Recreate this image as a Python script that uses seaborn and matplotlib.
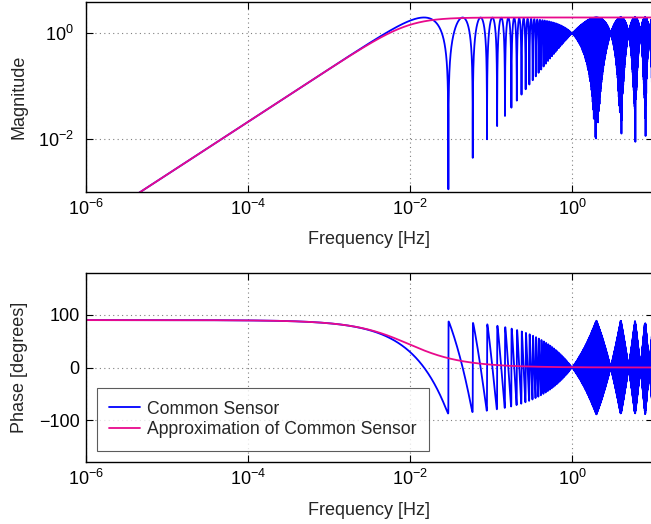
import numpy as np
import pandas as pd
import seaborn as sns
import matplotlib
matplotlib.use("Agg")
import matplotlib.pyplot as plt
from matplotlib.ticker import FixedLocator, LogFormatterMathtext

# ---- data / model parameters ----
freq_min_exp = -6          # 1e-6 Hz
freq_max_exp = 1           # 1e1 Hz
n_points = 100000
mean_delay_s = 33.6        # first notch near 0.0297 Hz
delay_spread_s = 0.5       # beat: magnitude pinches to 1 at 1 Hz, 3 Hz ...
series_names = ["Common Sensor", "Approximation of Common Sensor"]
mag_ticks = [1e-2, 1e0]
phase_ticks = [-100, 0, 100]
freq_ticks = [1e-6, 1e-4, 1e-2, 1e0]

f = np.logspace(freq_min_exp, freq_max_exp, n_points)
s = 2j * np.pi * f
tau1 = mean_delay_s - delay_spread_s / 2
tau2 = mean_delay_s + delay_spread_s / 2
H_cs = 1 - 0.5 * (np.exp(-s * tau1) + np.exp(-s * tau2))
# first-order Pade approximation of 1 - exp(-s*tau)
H_ap = s * mean_delay_s / (1 + s * mean_delay_s / 2)

df_cs = pd.DataFrame({"f": f, "mag": np.abs(H_cs), "ph": np.degrees(np.angle(H_cs))})
df_ap = pd.DataFrame({"f": f, "mag": np.abs(H_ap), "ph": np.degrees(np.angle(H_ap))})

sns.set_style("white")
plt.rcParams["font.family"] = ["Liberation Sans", "DejaVu Sans"]
plt.rcParams["mathtext.fontset"] = "custom"
plt.rcParams["mathtext.rm"] = "Liberation Sans"
plt.rcParams["mathtext.it"] = "Liberation Sans:italic"
plt.rcParams["mathtext.bf"] = "Liberation Sans:bold"

blue = (0.0, 0.0, 1.0)
pink = (0.91, 0.04, 0.55)
fs = 13

fig = plt.figure(figsize=(6.51, 5.24), dpi=100)
ax1 = fig.add_axes([86 / 651, 1 - 191.7 / 524, 567 / 651, 190 / 524])
ax2 = fig.add_axes([86 / 651, 1 - 462.3 / 524, 567 / 651, 189.6 / 524])

sns.lineplot(data=df_cs, x="f", y="mag", ax=ax1, color=blue, lw=1.3,
             estimator=None, sort=False, label=series_names[0], legend=False)
sns.lineplot(data=df_ap, x="f", y="mag", ax=ax1, color=pink, lw=1.3,
             estimator=None, sort=False, label=series_names[1], legend=False)
sns.lineplot(data=df_cs, x="f", y="ph", ax=ax2, color=blue, lw=1.3,
             estimator=None, sort=False, label=series_names[0], legend=False)
sns.lineplot(data=df_ap, x="f", y="ph", ax=ax2, color=pink, lw=1.3,
             estimator=None, sort=False, label=series_names[1], legend=False)

for ax in (ax1, ax2):
    ax.set_xscale("log")
    ax.set_xlim(10.0 ** freq_min_exp, 10.0 ** freq_max_exp)
    ax.xaxis.set_major_locator(FixedLocator(freq_ticks))
    ax.xaxis.set_minor_locator(FixedLocator([]))
    ax.xaxis.set_major_formatter(LogFormatterMathtext())
    ax.set_xlabel("Frequency [Hz]", fontsize=fs, labelpad=9)
    ax.grid(True, which="major", color="0.5", linestyle=(0, (1, 3)), lw=0.8)
    ax.tick_params(direction="in", length=5, width=0.8, labelsize=fs,
                   top=True, right=True, bottom=True, left=True, colors="black")
    ax.tick_params(axis="x", pad=5)
    for sp in ax.spines.values():
        sp.set_linewidth(1.0)
        sp.set_color("black")
    ax.set_axisbelow(True)

ax1.set_yscale("log")
ax1.set_ylim(1e-3, 10 ** 0.6)
ax1.yaxis.set_major_locator(FixedLocator(mag_ticks))
ax1.yaxis.set_minor_locator(FixedLocator([]))
ax1.yaxis.set_major_formatter(LogFormatterMathtext())
ax1.tick_params(axis="y", pad=9)
ax1.set_ylabel("Magnitude", fontsize=fs)
ax1.yaxis.set_label_coords((28 - 86) / 567, 0.5)

ax2.set_ylim(-180, 180)
ax2.yaxis.set_major_locator(FixedLocator(phase_ticks))
ax2.tick_params(axis="y", pad=4.5)
ax2.set_ylabel("Phase [degrees]", fontsize=fs)
ax2.yaxis.set_label_coords((28 - 86) / 567, 0.5)

leg = ax2.legend(loc="lower left", bbox_to_anchor=(0.0189, 0.061), borderaxespad=0,
                 fontsize=12.7, frameon=True, fancybox=False, edgecolor="0.2",
                 handlelength=1.75, handletextpad=0.4, borderpad=0.7, labelspacing=0.22)
leg.get_frame().set_linewidth(0.8)
for line in leg.get_lines():
    line.set_linewidth(1.3)

fig.savefig("out.png", dpi=100)
